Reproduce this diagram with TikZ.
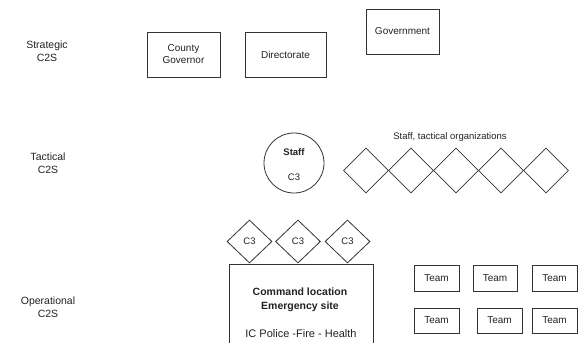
\documentclass[tikz,border=0pt]{standalone}
\usepackage{fontspec}
\setmainfont{Liberation Sans}
\usetikzlibrary{shapes.geometric}
\definecolor{ln}{HTML}{333333}
\definecolor{tx}{HTML}{222222}
\tikzset{
  box/.style={draw=ln, line width=0.8pt, rectangle, inner sep=0pt, text=tx, font=\fontsize{10}{12}\selectfont, align=center},
  dia/.style={draw=ln, line width=0.8pt, diamond, inner sep=0pt, minimum width=45pt, minimum height=45pt, aspect=1, text=tx, font=\fontsize{9.5}{11}\selectfont},
  lbl/.style={text=tx, font=\fontsize{10.5}{13}\selectfont, align=center, inner sep=0pt},
}
\begin{document}
\begin{tikzpicture}[x=1pt,y=-1pt]
\useasboundingbox (0,0) rectangle (579,343);
\clip (0,0) rectangle (579,343);
% level labels
\node[lbl] (strat) at (47,51) {Strategic\\C2S};
\node[lbl] (tact) at (48,163) {Tactical\\C2S};
\node[lbl] (oper) at (48,307) {Operational\\C2S};
% strategic boxes
\node[box, minimum width=73pt, minimum height=45pt] (cg) at (183.5,54.5) {County\\Governor};
\node[box, minimum width=81pt, minimum height=45pt] (dir) at (285.5,54.5) {Directorate};
\node[box, minimum width=73pt, minimum height=45pt] (gov) at (402.5,31.5) {Government};
% tactical
\node[draw=ln, line width=0.8pt, circle, minimum size=60pt, inner sep=0pt] (staff) at (294,163) {};
\node[lbl, font=\bfseries\fontsize{9.5}{11}\selectfont] (stafft) at (294,152) {Staff};
\node[lbl, font=\fontsize{9.5}{11}\selectfont] (c3t) at (294,177) {C3};
\node[dia] (d1) at (366,170.5) {};
\node[dia] (d2) at (411,170.5) {};
\node[dia] (d3) at (456,170.5) {};
\node[dia] (d4) at (501,170.5) {};
\node[dia] (d5) at (546,170.5) {};
\node[lbl, font=\fontsize{9.5}{11}\selectfont] (sto) at (450,137) {Staff, tactical organizations};
% operational
\node[dia, minimum width=45pt, minimum height=43pt] (c1) at (249.5,241.5) {C3};
\node[dia, minimum width=45pt, minimum height=43pt] (c2) at (298,241.5) {C3};
\node[dia, minimum width=45pt, minimum height=43pt] (c3) at (347.5,241.5) {C3};
\node[box, minimum width=144pt, minimum height=96pt, anchor=north] (cmd) at (301,263.5) {};
\node[lbl, font=\bfseries\fontsize{10.5}{14}\selectfont] (cmdt) at (300,299.5) {Command location\\Emergency site};
\node[lbl, font=\fontsize{11}{13}\selectfont] (ic) at (301,334) {IC Police -Fire - Health};
\node[box, minimum width=45pt, minimum height=26pt] (t1) at (436.5,278) {Team};
\node[box, minimum width=44pt, minimum height=26pt] (t2) at (495,278) {Team};
\node[box, minimum width=45pt, minimum height=26pt] (t3) at (554.5,278) {Team};
\node[box, minimum width=45pt, minimum height=25pt] (t4) at (436.5,320.5) {Team};
\node[box, minimum width=45pt, minimum height=25pt] (t5) at (499.5,320.5) {Team};
\node[box, minimum width=45pt, minimum height=25pt] (t6) at (554.5,320.5) {Team};
\end{tikzpicture}
\end{document}
